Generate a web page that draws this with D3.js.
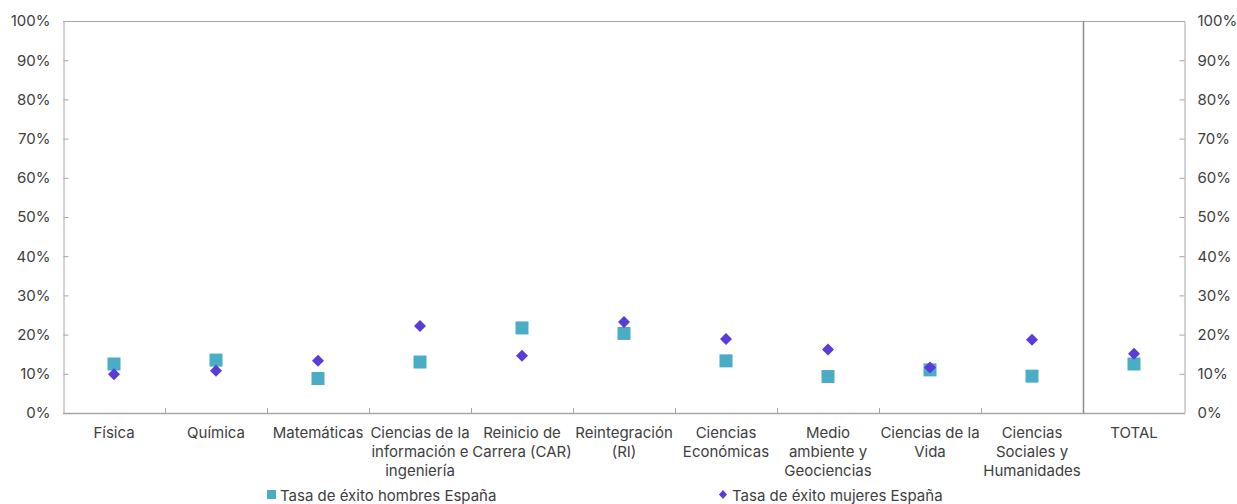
<!DOCTYPE html>
<html><head><meta charset="utf-8">
<script src="https://cdn.jsdelivr.net/npm/d3@7"></script>
<style>
body{margin:0;background:#fff;}
svg text{font-family:Inter,"Open Sans",sans-serif;fill:#404040;}
</style></head>
<body><svg id="c" width="1237" height="504"></svg>
<script>
const categories = [
  ["Física"], ["Química"], ["Matemáticas"],
  ["Ciencias de la", "información e", "ingeniería"],
  ["Reinicio de", "Carrera (CAR)"], ["Reintegración", "(RI)"],
  ["Ciencias", "Económicas"], ["Medio", "ambiente y", "Geociencias"],
  ["Ciencias de la", "Vida"], ["Ciencias", "Sociales y", "Humanidades"], ["TOTAL"]
];
const hombres = [12.5, 13.5, 8.8, 13.0, 21.7, 20.3, 13.3, 9.3, 11.0, 9.4, 12.5];
const mujeres = [9.9, 10.8, 13.3, 22.2, 14.6, 23.2, 18.9, 16.2, 11.6, 18.7, 15.1];
const yTicks = [0, 10, 20, 30, 40, 50, 60, 70, 80, 90, 100];
const seriesNames = ["Tasa de éxito hombres España", "Tasa de éxito mujeres España"];

const svg = d3.select("#c");
const L = 63, R = 1185, T = 21, B = 413;
const idx = d3.range(categories.length);
const x = d3.scaleBand().domain(idx).range([L, R]).padding(0);
const y = d3.scaleLinear().domain([0, 100]).range([B, T]);
const axisColor = "#a6a6a6";

// frame top
svg.append("line").attr("x1", L).attr("x2", R).attr("y1", T + 0.5).attr("y2", T + 0.5)
  .attr("stroke", axisColor);

// left axis
const la = svg.append("g").attr("transform", `translate(${L + 0.5},0)`)
  .call(d3.axisLeft(y).tickValues(yTicks).tickSize(-5).tickPadding(13).tickFormat(d => d + "%"));
// right axis
const ra = svg.append("g").attr("transform", `translate(${R - 0.5},0)`)
  .call(d3.axisRight(y).tickValues(yTicks).tickSize(-5).tickPadding(13).tickFormat(d => d + "%"));
[la, ra].forEach(g => {
  g.select(".domain").attr("stroke", axisColor);
  g.selectAll(".tick line").attr("stroke", axisColor);
  g.selectAll(".tick text").style("font-size", "15px").attr("fill", "#404040");
  g.selectAll(".tick").filter(d => d === 0 || d === 100).select("line").remove();
});

// bottom axis with boundary ticks
const xb = svg.append("g");
xb.append("line").attr("x1", L).attr("x2", R).attr("y1", B + 0.5).attr("y2", B + 0.5)
  .attr("stroke", axisColor).attr("stroke-width", 1.5);
idx.slice(1).forEach(i => {
  const bx = Math.round(x(i)) + 0.5;
  xb.append("line").attr("x1", bx).attr("x2", bx).attr("y1", B).attr("y2", B - 5)
    .attr("stroke", axisColor);
});
// divider before TOTAL
const dx = Math.round(x(categories.length - 1)) + 0.5;
svg.append("line").attr("x1", dx).attr("x2", dx).attr("y1", T).attr("y2", B)
  .attr("stroke", "#8c8c8c").attr("stroke-width", 1.5);

// category labels
idx.forEach(i => {
  const t = svg.append("text").attr("x", x(i) + x.bandwidth() / 2).attr("y", 438)
    .attr("text-anchor", "middle").style("font-size", "15px");
  categories[i].forEach((ln, k) => {
    t.append("tspan").attr("x", x(i) + x.bandwidth() / 2).attr("dy", k === 0 ? 0 : 19).text(ln);
  });
});

const cx = i => x(i) + x.bandwidth() / 2;
const sq = 13, dia = 12;
const sqColor = "#4bacc6", diaColor = "#5b3bd8";
// hombres squares
svg.append("g").selectAll("rect").data(hombres).join("rect")
  .attr("x", (d, i) => cx(i) - sq / 2).attr("y", d => y(d) - sq / 2)
  .attr("width", sq).attr("height", sq).attr("fill", sqColor);
// mujeres diamonds
svg.append("g").selectAll("path").data(mujeres).join("path")
  .attr("d", (d, i) => {
    const px = cx(i), py = y(d), h = dia / 2;
    return `M${px},${py - h}L${px + h},${py}L${px},${py + h}L${px - h},${py}Z`;
  }).attr("fill", diaColor);

// legend
const lg = svg.append("g");
lg.append("rect").attr("x", 267).attr("y", 490).attr("width", 9).attr("height", 9).attr("fill", sqColor);
lg.append("text").attr("x", 280).attr("y", 501).style("font-size", "15px").text(seriesNames[0]);
lg.append("path").attr("d", "M723,490L727,494.5L723,499L719,494.5Z").attr("fill", diaColor);
lg.append("text").attr("x", 732).attr("y", 501).style("font-size", "15px").text(seriesNames[1]);
</script></body></html>
